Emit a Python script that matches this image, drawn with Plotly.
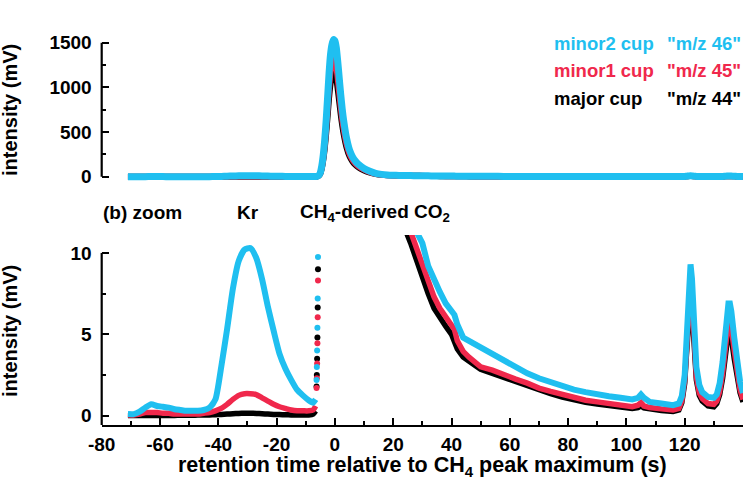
import plotly.graph_objects as go

W, H = 749, 489

CYAN = "#1fbff0"
RED = "#f0284c"
BLACK = "#000000"

# ---------------- data (retention time in s, intensity in mV) ----------------
# Kr region (before CH4-derived CO2 peak)
t_pre = [-71, -69, -67, -65, -63, -61, -59, -57, -55, -53, -51, -49, -47, -45, -43, -41,
         -39, -37, -35, -33, -31, -29, -27, -25, -23, -21, -19, -17, -15, -13, -11, -9, -7.5, -6.6]
minor2_pre = [0.1, 0.1, 0.25, 0.5, 0.7, 0.6, 0.55, 0.5, 0.4, 0.35, 0.3, 0.3, 0.3, 0.35, 0.5, 1.0,
              3.0, 5.3, 7.8, 9.5, 10.2, 10.3, 9.7, 8.4, 6.7, 5.2, 3.8, 2.9, 2.2, 1.6, 1.25, 0.95, 0.8, 1.0]
minor1_pre = [0.05, 0.05, 0.1, 0.2, 0.2, 0.2, 0.15, 0.15, 0.1, 0.1, 0.1, 0.1, 0.1, 0.15, 0.2, 0.3,
              0.45, 0.7, 1.0, 1.25, 1.35, 1.35, 1.3, 1.1, 0.9, 0.7, 0.55, 0.45, 0.35, 0.3, 0.3, 0.3, 0.35, 0.6]
major_pre = [0.02, 0.02, 0.02, 0.02, 0.02, 0.02, 0.02, 0.02, 0.02, 0.03, 0.03, 0.03, 0.04, 0.04, 0.05, 0.06,
             0.08, 0.1, 0.12, 0.14, 0.15, 0.15, 0.14, 0.12, 0.1, 0.08, 0.07, 0.06, 0.05, 0.05, 0.05, 0.05, 0.1, 0.3]

# steep rising edge of the CH4-derived CO2 peak
t_edge = [-6.3, -6.2, -6.1, -6.0, -5.9, -5.8]
minor2_edge = [2.2, 3.0, 4.0, 5.4, 7.2, 9.75]
minor1_edge = [1.7, 2.3, 3.2, 4.45, 6.05, 8.3]
major_edge = [1.8, 2.5, 3.5, 4.8, 6.65, 9.0]

# CH4-derived CO2 peak
t_peak = [-5.5, -5, -4.5, -4, -3.5, -3, -2.5, -2, -1.5, -1, -0.5, 0, 0.5, 1, 1.5, 2, 2.5, 3, 4, 5, 6,
          7, 8, 10, 12, 14, 16, 18, 20, 22, 24]
minor2_peak = [14, 45, 120, 240, 410, 630, 890, 1160, 1370, 1480, 1535, 1520, 1440, 1280, 1100, 920,
               760, 630, 430, 300, 225, 175, 140, 92, 60, 38, 26, 19, 15.5, 13.8, 12.8]
minor1_peak = [12, 38, 100, 205, 350, 540, 760, 990, 1170, 1265, 1308, 1295, 1225, 1090, 935, 780,
               645, 535, 365, 255, 190, 148, 118, 78, 50, 32, 22, 16.5, 14, 12.8, 12.0]
major_peak = [12, 34, 90, 183, 312, 480, 675, 880, 1040, 1125, 1165, 1152, 1090, 970, 832, 694,
              574, 476, 325, 227, 170, 132, 105, 70, 45, 29, 20, 15, 13, 12.2, 11.5]

# tail and later peaks
t_tail = [26, 28, 30, 32, 34, 36, 38, 40, 41, 42, 44, 46, 48, 50, 54, 58, 62, 66, 70, 74, 78, 82, 86,
          90, 94, 98, 102, 104, 105, 106, 108, 112, 116, 118, 119, 120, 120.5, 121, 121.5, 122, 122.5,
          123, 123.5, 124, 125, 126, 128, 130, 131, 132, 133, 134, 134.5, 135, 135.5, 136, 137, 138,
          139, 140]
minor2_tail = [12.0, 11.2, 10.6, 9.2, 8.3, 7.6, 6.9, 6.4, 6.2, 5.6, 4.8, 4.6, 4.4, 4.2, 3.7, 3.3, 2.95,
               2.6, 2.3, 2.05, 1.8, 1.6, 1.45, 1.3, 1.2, 1.1, 1.0, 1.1, 1.3, 1.1, 0.85, 0.75, 0.65,
               0.75, 1.2, 2.5, 4.5, 6.8, 8.6, 9.3, 8.4, 6.3, 4.3, 3.0, 1.9, 1.45, 1.15, 1.1, 1.3, 2.0,
               3.3, 5.3, 6.3, 6.9, 6.9, 6.4, 4.8, 3.3, 2.1, 1.4]
minor1_tail = [11.3, 10.3, 9.3, 8.5, 7.3, 6.6, 6.1, 5.6, 5.3, 4.6, 3.95, 3.6, 3.3, 3.0, 2.8, 2.5, 2.25,
               2.0, 1.7, 1.5, 1.3, 1.1, 0.95, 0.85, 0.75, 0.62, 0.55, 0.65, 0.8, 0.6, 0.5, 0.42, 0.36,
               0.45, 0.9, 2.2, 3.8, 5.8, 7.4, 8.1, 7.3, 5.4, 3.6, 2.4, 1.4, 1.05, 0.75, 0.7, 0.9, 1.5,
               2.6, 4.3, 5.2, 5.8, 5.8, 5.4, 4.0, 2.7, 1.6, 1.0]
major_tail = [10.6, 9.5, 8.5, 7.5, 6.6, 6.0, 5.5, 5.0, 4.6, 4.1, 3.6, 3.3, 3.1, 2.85, 2.6, 2.3, 2.05,
              1.8, 1.55, 1.35, 1.15, 0.95, 0.82, 0.72, 0.62, 0.52, 0.45, 0.5, 0.6, 0.48, 0.4, 0.32, 0.26,
              0.35, 0.8, 2.0, 3.5, 5.4, 6.8, 7.4, 6.6, 4.9, 3.3, 2.2, 1.25, 0.9, 0.6, 0.55, 0.75, 1.3,
              2.3, 3.8, 4.6, 5.2, 5.2, 4.8, 3.5, 2.4, 1.4, 0.85]

x_tickvals = [-80, -60, -40, -20, 0, 20, 40, 60, 80, 100, 120, 140]
x_ticktext = ["-80", "-60", "-40", "-20", "0", "20", "40", "60", "80", "100", "120", "140"]
top_tickvals = [0, 500, 1000, 1500]
bot_tickvals = [0, 5, 10]

series = [
    ("major cup", BLACK, major_pre, major_edge, major_peak, major_tail),
    ("minor1 cup", RED, minor1_pre, minor1_edge, minor1_peak, minor1_tail),
    ("minor2 cup", CYAN, minor2_pre, minor2_edge, minor2_peak, minor2_tail),
]

# ---------------- layout geometry (pixels) ----------------
def px(x):
    return x / W

def py(y):
    return 1 - y / H

X0, X1 = 101.7, 743.0
TOP_Y0, TOP_Y1 = 32.9, 185.6
BOT_Y0, BOT_Y1 = 235.0, 425.0

fig = go.Figure()

for name, col, pre, edge, peak, tail in series:
    lw = 7 if col == CYAN else 6
    fig.add_trace(go.Scatter(x=t_pre + t_edge + t_peak + t_tail, y=pre + edge + peak + tail,
                             mode="lines", line=dict(color=col, width=lw, shape="spline", smoothing=0.5),
                             xaxis="x2", yaxis="y2", showlegend=False, name=name))
for name, col, pre, edge, peak, tail in series:
    lw = 6 if col == CYAN else 5.5
    fig.add_trace(go.Scatter(x=t_pre, y=pre, mode="lines",
                             line=dict(color=col, width=lw, shape="spline", smoothing=0.6),
                             xaxis="x", yaxis="y", showlegend=False, name=name))
    fig.add_trace(go.Scatter(x=t_peak + t_tail, y=peak + tail, mode="lines",
                             line=dict(color=col, width=lw),
                             xaxis="x", yaxis="y", showlegend=False, name=name))
for name, col, pre, edge, peak, tail in series:
    fig.add_trace(go.Scatter(x=t_edge, y=edge, mode="markers", marker=dict(color=col, size=6),
                             xaxis="x", yaxis="y", showlegend=False, name=name))

tickfont = dict(family="Arial, Liberation Sans, sans-serif", size=19, color="black", weight="bold")

fig.update_layout(
    width=W, height=H,
    margin=dict(l=0, r=0, t=0, b=0),
    paper_bgcolor="white", plot_bgcolor="white",
    xaxis=dict(domain=[px(X0), px(X1)], anchor="y", range=[-80, 140],
               showline=True, linecolor="black", linewidth=2.2, showgrid=False, zeroline=False,
               ticks="inside", ticklen=7, tickwidth=2, tickcolor="black",
               tickvals=x_tickvals, ticktext=x_ticktext, tickfont=tickfont, ticklabelstandoff=1,
               minor=dict(ticks="inside", ticklen=4, tickwidth=1.5, tickcolor="black", dtick=10, tick0=0),
               automargin=False),
    yaxis=dict(domain=[py(BOT_Y1), py(BOT_Y0)], anchor="x", range=[-0.57, 11.1],
               showline=False, showgrid=False, zeroline=False,
               ticks="inside", ticklen=7, tickwidth=2, tickcolor="black",
               tickvals=bot_tickvals, tickfont=tickfont, ticklabelstandoff=9,
               minor=dict(ticks="inside", ticklen=4, tickwidth=1.5, tickcolor="black", dtick=2.5, tick0=0),
               automargin=False),
    xaxis2=dict(domain=[px(X0), px(X1)], anchor="y2", range=[-80, 140], matches="x",
                visible=False),
    yaxis2=dict(domain=[py(TOP_Y1), py(TOP_Y0)], anchor="x2", range=[-100, 1610],
                showline=False, showgrid=False, zeroline=False,
                ticks="inside", ticklen=7, tickwidth=2, tickcolor="black",
                tickvals=top_tickvals, tickfont=tickfont, ticklabelstandoff=9,
                minor=dict(ticks="inside", ticklen=4, tickwidth=1.5, tickcolor="black", dtick=250, tick0=0),
                automargin=False),
)

# axis spines limited to the labelled range (bracket style)
fig.add_shape(type="line", xref="x domain", yref="y2", x0=0, x1=0, y0=0, y1=1500,
              line=dict(color="black", width=2.2))
fig.add_shape(type="line", xref="x domain", yref="y domain", x0=0, x1=0, y0=0, y1=(10 + 0.57) / 11.67,
              line=dict(color="black", width=2.2))

FONT = "Arial, Liberation Sans, sans-serif"

def ann(text, x, y, color="black", size=19, xanchor="left", yanchor="middle", angle=0):
    fig.add_annotation(text=text, x=px(x), y=py(y), xref="paper", yref="paper",
                       showarrow=False, xanchor=xanchor, yanchor=yanchor, textangle=angle,
                       font=dict(family=FONT, size=size, color=color, weight="bold"))

# legend-like labels
ann("minor2 cup", 552, 43, CYAN, size=18.5)
ann("\"m/z 46\"", 665, 43, CYAN, size=18.5)
ann("minor1 cup", 552, 71, RED, size=18.5)
ann("\"m/z 45\"", 665, 71, RED, size=18.5)
ann("major cup", 552, 98, BLACK, size=18.5)
ann("\"m/z 44\"", 665, 98, BLACK, size=18.5)

# panel labels (top one is cut off by the picture edge, as in the original)
ann("(a) full scale", 108, -14)
ann("CH<sub>4</sub>-derived CO<sub>2</sub>", 744, -13, xanchor="right", size=16)
ann("(b) zoom", 101, 213)
ann("Kr", 248, 213, xanchor="center")
ann("CH<sub>4</sub>-derived CO<sub>2</sub>", 298, 213)

# axis titles
ann("intensity (mV)", 10, 110, xanchor="center", size=20, angle=-90)
ann("intensity (mV)", 10, 331, xanchor="center", size=20, angle=-90)
ann("retention time relative to CH<sub>4</sub> peak maximum (s)", 422, 466, xanchor="center", size=21.5)

fig.write_html("out.html")
